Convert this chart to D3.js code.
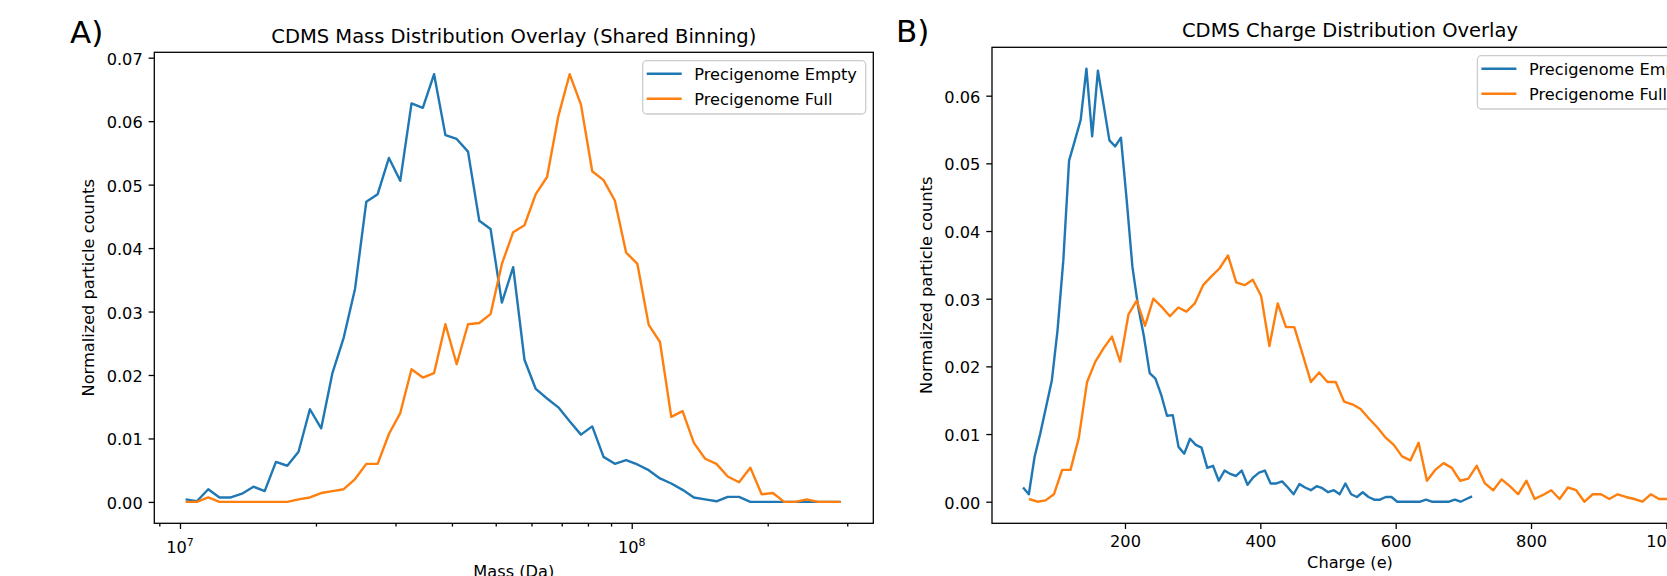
<!DOCTYPE html>
<html><head><meta charset="utf-8">
<script src="https://cdn.jsdelivr.net/npm/d3@7"></script>
<style>
body{margin:0;background:#fff}
svg{display:block}
text{font-family:"DejaVu Sans",sans-serif;fill:#000}
</style>
</head><body>
<svg id="c" width="1667" height="576"></svg>
<script>
// ---------- DATA ----------
// Panel A: shared log-spaced mass bins (bin centres, in millions of Da)
const massBinsMDa = [10.29,10.90,11.55,12.23,12.96,13.72,14.54,15.40,16.31,17.28,
  18.30,19.39,20.54,21.75,23.04,24.41,25.85,27.39,29.01,30.73,
  32.55,34.48,36.52,38.69,40.98,43.41,45.98,48.70,51.59,54.65,
  57.89,61.32,64.95,68.80,72.88,77.20,81.77,86.62,91.75,97.18,
  102.94,109.04,115.50,122.34,129.59,137.27,145.40,154.02,163.14,172.81,
  183.05,193.89,205.38,217.55,230.44,244.10,258.56,273.88,290.11];
const massEmpty = [0.0004,0.0001,0.0020,0.0007,0.0007,0.0013,0.0024,0.0017,0.0063,0.0057,
  0.0079,0.0146,0.0116,0.0203,0.0259,0.0336,0.0473,0.0485,0.0542,0.0506,
  0.0628,0.0621,0.0674,0.0578,0.0572,0.0552,0.0443,0.0430,0.0314,0.0370,
  0.0224,0.0178,0.0163,0.0149,0.0127,0.0106,0.0119,0.0071,0.0060,0.0066,
  0.0059,0.0050,0.0037,0.0029,0.0019,0.0007,0.0004,0.0001,0.0008,0.0008,
  0,0,0,0,0,0,0,0,0];
const massFull = [0,0,0.0007,0,0,0,0,0,0,0,
  0.0004,0.0007,0.0014,0.0017,0.0020,0.0036,0.0060,0.0060,0.0107,0.0140,
  0.0209,0.0196,0.0203,0.0280,0.0217,0.0280,0.0282,0.0296,0.0375,0.0425,
  0.0436,0.0485,0.0512,0.0608,0.0674,0.0626,0.0521,0.0507,0.0475,0.0393,
  0.0375,0.0279,0.0252,0.0134,0.0143,0.0093,0.0068,0.0060,0.0040,0.0031,
  0.0054,0.0012,0.0014,0,0,0.0004,0,0,0];

// Panel B: charge bins (bin centres, e), one set per series
const chargeEmptyBins = [49.4,57.9,66.4,74.9,83.4,91.9,100.4,108.9,117.4,126.0,
  134.5,143.0,151.5,160.0,168.5,177.0,185.5,194.0,202.5,211.0,
  219.5,228.0,236.5,245.0,253.5,262.1,270.6,279.1,287.6,296.1,
  304.6,313.1,321.6,330.1,338.6,347.1,355.6,364.1,372.6,381.1,
  389.6,398.1,406.7,415.2,423.7,432.2,440.7,449.2,457.7,466.2,
  474.7,483.2,491.7,500.2,508.7,517.2,525.7,534.2,542.7,551.3,
  559.8,568.3,576.8,585.3,593.8,602.3,610.8,619.3,627.8,636.3,
  644.8,653.3,661.8,670.3,678.8,687.4,695.9,704.4,712.9];
const chargeEmpty = [0.0021,0.0011,0.0066,0.0101,0.0140,0.0179,0.0254,0.0357,0.0504,0.0534,
  0.0564,0.0640,0.0540,0.0637,0.0586,0.0534,0.0525,0.0538,0.0446,0.0347,
  0.0288,0.0244,0.0190,0.0182,0.0158,0.0127,0.0128,0.0081,0.0071,0.0093,
  0.0084,0.0080,0.0050,0.0053,0.0031,0.0046,0.0041,0.0038,0.0046,0.0025,
  0.0036,0.0043,0.0046,0.0027,0.0027,0.0030,0.0021,0.0011,0.0026,0.0021,
  0.0017,0.0023,0.0020,0.0014,0.0017,0.0011,0.0027,0.0011,0.0007,0.0014,
  0.0007,0.0003,0.0003,0.0007,0.0007,0,0,0,0,0,
  0.0003,0,0,0,0,0.0003,0,0.0004,0.0008];
const chargeFullBins = [58.2,70.5,82.7,95.0,107.2,119.5,131.7,144.0,156.2,168.5,
  180.7,192.9,205.2,217.4,229.7,241.9,254.2,266.4,278.7,290.9,
  303.2,315.4,327.7,339.9,352.2,364.4,376.7,388.9,401.2,413.4,
  425.7,437.9,450.2,462.4,474.7,486.9,499.2,511.4,523.7,535.9,
  548.2,560.4,572.7,584.9,597.2,609.4,621.7,633.9,646.2,658.4,
  670.7,682.9,695.2,707.4,719.7,731.9,744.2,756.4,768.7,780.9,
  793.2,805.4,817.7,829.9,842.2,854.4,866.7,878.9,891.2,903.4,
  915.7,927.9,940.2,952.4,964.7,976.9,989.2,1001.4,1013.7];
const chargeFull = [0.0004,0.0000,0.0002,0.0011,0.0047,0.0047,0.0094,0.0177,0.0207,0.0227,
  0.0244,0.0207,0.0277,0.0297,0.0260,0.0300,0.0288,0.0274,0.0287,0.0281,
  0.0293,0.0320,0.0333,0.0345,0.0364,0.0324,0.0320,0.0328,0.0304,0.0230,
  0.0293,0.0258,0.0258,0.0218,0.0177,0.0191,0.0177,0.0177,0.0148,0.0144,
  0.0137,0.0123,0.0110,0.0095,0.0084,0.0067,0.0061,0.0087,0.0031,0.0047,
  0.0057,0.0050,0.0031,0.0034,0.0053,0.0027,0.0017,0.0033,0.0023,0.0011,
  0.0031,0.0004,0.0010,0.0017,0.0004,0.0021,0.0017,0.0000,0.0011,0.0011,
  0.0004,0.0011,0.0007,0.0004,0.0000,0.0011,0.0004,0.0004,0.0004];

const yTicksMass = [0,0.01,0.02,0.03,0.04,0.05,0.06,0.07];
const yTicksCharge = [0,0.01,0.02,0.03,0.04,0.05,0.06];
const xTicksCharge = [200,400,600,800,1000];
const seriesNames = ["Precigenome Empty","Precigenome Full"];
const seriesColors = ["#1f77b4","#ff7f0e"];

// ---------- DRAW ----------
const svg = d3.select("#c");
const FS = 16.2, TITLE_FS = 19.5, TICK = 5.7, MINOR = 3.25, PAD = 5.9, LW = 2.4;

function yAxis(g, y, box, ticks) {
  const ax = g.append("g").attr("transform", `translate(${box.left},0)`)
    .call(d3.axisLeft(y).tickValues(ticks).tickFormat(d3.format(".2f"))
      .tickSize(TICK).tickPadding(PAD).tickSizeOuter(0));
  ax.select(".domain").remove();
  ax.attr("font-size", FS).attr("font-family", "DejaVu Sans");
  ax.selectAll(".tick line").attr("stroke", "#000").attr("stroke-width", 1.3);
  ax.selectAll(".tick text").attr("dy", "0.4em").attr("fill", "#000");
}

function frame(g, box) {
  g.append("rect").attr("x", box.left).attr("y", box.top)
    .attr("width", box.right - box.left).attr("height", box.bottom - box.top)
    .attr("fill", "none").attr("stroke", "#000").attr("stroke-width", 1.3);
}

function legend(g, box) {
  const w = 223, h = 53.3;
  const lx = box.right - 7.6 - w, ly = box.top + 8.4;
  const lg = g.append("g");
  lg.append("rect").attr("x", lx).attr("y", ly).attr("width", w).attr("height", h)
    .attr("rx", 4).attr("fill", "#fff").attr("fill-opacity", 0.8)
    .attr("stroke", "#cccccc").attr("stroke-width", 1.3);
  seriesNames.forEach((name, i) => {
    const cy = ly + 13 + i * 25;
    lg.append("line").attr("x1", lx + 4).attr("x2", lx + 39).attr("y1", cy).attr("y2", cy)
      .attr("stroke", seriesColors[i]).attr("stroke-width", LW);
    lg.append("text").attr("x", lx + 51.6).attr("y", cy + 5.8)
      .attr("font-size", FS).text(name);
  });
}

function series(g, x, y, bins, vals, color) {
  const line = d3.line().x((d, i) => x(bins[i])).y(d => y(d));
  g.append("path").datum(vals).attr("d", line).attr("fill", "none")
    .attr("stroke", color).attr("stroke-width", LW)
    .attr("stroke-linejoin", "round").attr("stroke-linecap", "butt");
}

// Panel A
{
  const box = {left: 154.3, right: 873.3, top: 52.3, bottom: 523.3};
  const x = d3.scaleLog().domain([8.773e6, 3.426e8]).range([box.left, box.right]);
  const y = d3.scaleLinear().domain([-0.00337, 0.07085]).range([box.bottom, box.top]);
  const g = svg.append("g");
  const binsDa = massBinsMDa.map(v => v * 1e6);
  series(g, x, y, binsDa, massEmpty, seriesColors[0]);
  series(g, x, y, binsDa, massFull, seriesColors[1]);
  yAxis(g, y, box, yTicksMass);
  const ticks = x.ticks();
  const isMajor = d => Math.abs(Math.log10(d) - Math.round(Math.log10(d))) < 1e-9;
  const ax = g.append("g").attr("transform", `translate(0,${box.bottom})`)
    .call(d3.axisBottom(x).tickValues(ticks).tickFormat("").tickSize(TICK).tickSizeOuter(0));
  ax.select(".domain").remove();
  ax.selectAll(".tick text").remove();
  ax.selectAll(".tick line").attr("stroke", "#000").attr("stroke-width", 1.3)
    .attr("y2", d => isMajor(d) ? TICK : MINOR);
  ticks.filter(isMajor).forEach(d => {
    const t = g.append("text").attr("x", x(d)).attr("y", box.bottom + 29.4)
      .attr("text-anchor", "middle").attr("font-size", FS);
    t.append("tspan").text("10");
    t.append("tspan").attr("font-size", 11).attr("dy", -6.8).text(String(Math.round(Math.log10(d))));
  });
  frame(g, box);
  legend(g, box);
  g.append("text").attr("x", (box.left + box.right) / 2).attr("y", 42.5)
    .attr("text-anchor", "middle").attr("font-size", TITLE_FS)
    .text("CDMS Mass Distribution Overlay (Shared Binning)");
  g.append("text").attr("x", (box.left + box.right) / 2).attr("y", 576.5)
    .attr("text-anchor", "middle").attr("font-size", FS).text("Mass (Da)");
  g.append("text").attr("transform", `translate(94,${(box.top + box.bottom) / 2}) rotate(-90)`)
    .attr("text-anchor", "middle").attr("font-size", FS).text("Normalized particle counts");
  g.append("text").attr("x", 70).attr("y", 42.5).attr("font-size", 31).text("A)");
}

// Panel B
{
  const box = {left: 992, right: 1708, top: 47.3, bottom: 523.3};
  const x = d3.scaleLinear().domain([3.5, 1061.5]).range([box.left, box.right]);
  const y = d3.scaleLinear().domain([-0.00319, 0.06715]).range([box.bottom, box.top]);
  const g = svg.append("g");
  series(g, x, y, chargeEmptyBins, chargeEmpty, seriesColors[0]);
  series(g, x, y, chargeFullBins, chargeFull, seriesColors[1]);
  yAxis(g, y, box, yTicksCharge);
  const ax = g.append("g").attr("transform", `translate(0,${box.bottom})`)
    .call(d3.axisBottom(x).tickValues(xTicksCharge).tickFormat(d3.format("d"))
      .tickSize(TICK).tickPadding(PAD).tickSizeOuter(0));
  ax.select(".domain").remove();
  ax.attr("font-size", FS).attr("font-family", "DejaVu Sans");
  ax.selectAll(".tick line").attr("stroke", "#000").attr("stroke-width", 1.3);
  ax.selectAll(".tick text").attr("y", 23.4).attr("dy", 0).attr("fill", "#000");
  frame(g, box);
  legend(g, box);
  g.append("text").attr("x", (box.left + box.right) / 2).attr("y", 36.8)
    .attr("text-anchor", "middle").attr("font-size", TITLE_FS)
    .text("CDMS Charge Distribution Overlay");
  g.append("text").attr("x", (box.left + box.right) / 2).attr("y", 567.5)
    .attr("text-anchor", "middle").attr("font-size", FS).text("Charge (e)");
  g.append("text").attr("transform", `translate(932,${(box.top + box.bottom) / 2}) rotate(-90)`)
    .attr("text-anchor", "middle").attr("font-size", FS).text("Normalized particle counts");
  g.append("text").attr("x", 896).attr("y", 41.5).attr("font-size", 31).text("B)");
}
</script>
</body></html>
